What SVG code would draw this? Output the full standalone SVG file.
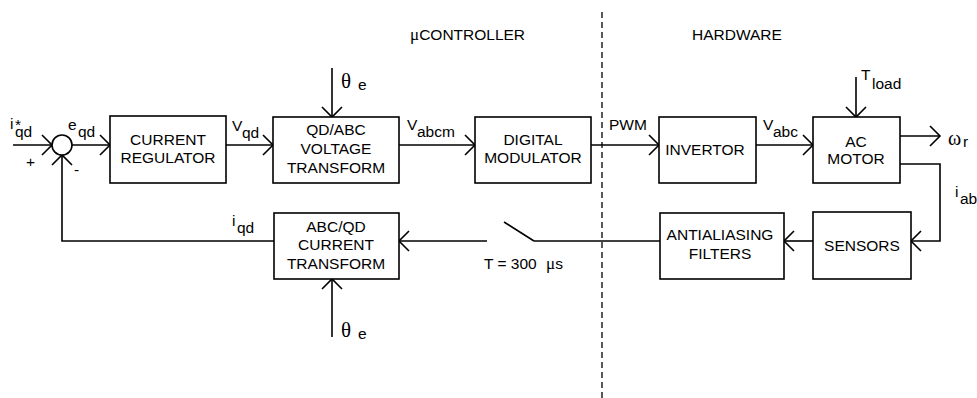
<svg xmlns="http://www.w3.org/2000/svg" width="977" height="398" viewBox="0 0 977 398">
<style>
.t{font-family:"Liberation Sans",Arial,sans-serif;font-size:15.5px;fill:#000}
.m{text-anchor:middle}
.g{font-family:"Liberation Serif","DejaVu Serif",serif;fill:#000}
.box{fill:#fff;stroke:#000;stroke-width:1.6}
.ln{fill:none;stroke:#000;stroke-width:1.6}
.ar{marker-end:url(#arr)}
</style>
<defs>
<marker id="arr" markerUnits="userSpaceOnUse" markerWidth="24" markerHeight="24" viewBox="-12 -12 24 24" refX="0" refY="0" orient="auto" overflow="visible">
<path d="M-10,-10 L0,0 L-10,10" fill="none" stroke="#000" stroke-width="1.6"/>
</marker>
</defs>
<rect width="977" height="398" fill="#fff"/>

<g id="divider">
<line x1="602" y1="12" x2="602" y2="398" stroke="#000" stroke-width="1.3" stroke-dasharray="6,4"/>
<text class="t" x="410" y="40"><tspan class="g" font-size="17">μ</tspan>CONTROLLER</text>
<text class="t" x="692" y="40">HARDWARE</text>
</g>

<g id="connectors">
<line class="ln ar" x1="13" y1="145" x2="52" y2="145"/>
<line class="ln ar" x1="72" y1="145" x2="110" y2="145"/>
<line class="ln ar" x1="226" y1="145" x2="273" y2="145"/>
<line class="ln ar" x1="399" y1="145" x2="475" y2="145"/>
<line class="ln ar" x1="591" y1="145" x2="659" y2="145"/>
<line class="ln ar" x1="756" y1="145" x2="813" y2="145"/>
<line class="ln ar" x1="900" y1="136" x2="940" y2="136"/>
<polyline class="ln ar" points="900,164 940,164 940,241 911,241"/>
<line class="ln ar" x1="813" y1="241" x2="784" y2="241"/>
<line class="ln" x1="660" y1="241" x2="534" y2="241"/>
<line class="ln" x1="534" y1="241" x2="504" y2="222"/>
<line class="ln ar" x1="487" y1="241" x2="399" y2="241"/>
<polyline class="ln ar" points="274,241 62,241 62,155"/>
<line class="ln ar" x1="332" y1="68" x2="332" y2="117"/>
<line class="ln ar" x1="332" y1="337" x2="332" y2="279"/>
<line class="ln ar" x1="856" y1="77" x2="856" y2="117"/>
</g>

<g id="sum">
<circle cx="62" cy="145" r="10" fill="#fff" stroke="#000" stroke-width="1.6"/>
<text class="t" x="26" y="167">+</text>
<text class="t" x="74" y="175">-</text>
</g>

<g id="labels">
<text class="t" x="10" y="129">i<tspan x="15" y="130">*</tspan><tspan x="15" y="137">qd</tspan></text>
<text class="t" x="68" y="130">e<tspan x="78" y="137">qd</tspan></text>
<text class="t" x="232" y="131">V<tspan x="242" y="138">qd</tspan></text>
<text class="t" x="407" y="130">V<tspan x="417" y="137">abcm</tspan></text>
<text class="t" x="609" y="130">PWM</text>
<text class="t" x="763" y="130">V<tspan x="773" y="137">abc</tspan></text>
<text class="t" x="861" y="80">T<tspan x="872" y="89">load</tspan></text>
<text class="g" x="948" y="145" font-size="20">ω<tspan class="t" x="963" y="147">r</tspan></text>
<text class="t" x="955" y="197">i<tspan x="960" y="204">ab</tspan></text>
<text class="t" x="232" y="226">i<tspan x="237" y="233">qd</tspan></text>
<text class="g" x="341" y="88" font-size="21">θ<tspan class="t" x="358" y="90">e</tspan></text>
<text class="g" x="341" y="337" font-size="21">θ<tspan class="t" x="358" y="339">e</tspan></text>
<text class="t" x="484" y="269">T = 300<tspan class="g" font-size="17" x="546">μ</tspan>s</text>
</g>

<g id="current-regulator">
<rect class="box" x="110" y="116" width="116" height="67"/>
<text class="t m" x="168" y="145">CURRENT</text>
<text class="t m" x="168" y="163">REGULATOR</text>
</g>

<g id="qdabc-transform">
<rect class="box" x="273" y="117" width="126" height="66"/>
<text class="t m" x="336" y="135">QD/ABC</text>
<text class="t m" x="336" y="154">VOLTAGE</text>
<text class="t m" x="336" y="173">TRANSFORM</text>
</g>

<g id="digital-modulator">
<rect class="box" x="475" y="117" width="116" height="66"/>
<text class="t m" x="533" y="145">DIGITAL</text>
<text class="t m" x="533" y="163">MODULATOR</text>
</g>

<g id="invertor">
<rect class="box" x="659" y="117" width="97" height="66"/>
<text class="t m" x="705" y="155">INVERTOR</text>
</g>

<g id="ac-motor">
<rect class="box" x="813" y="117" width="87" height="66"/>
<text class="t m" x="856" y="147">AC</text>
<text class="t m" x="856" y="164">MOTOR</text>
</g>

<g id="sensors">
<rect class="box" x="813" y="212" width="98" height="67"/>
<text class="t m" x="862" y="251">SENSORS</text>
</g>

<g id="antialiasing-filters">
<rect class="box" x="660" y="213" width="124" height="66"/>
<text class="t m" x="720" y="240">ANTIALIASING</text>
<text class="t m" x="720" y="259">FILTERS</text>
</g>

<g id="abcqd-transform">
<rect class="box" x="274" y="213" width="125" height="66"/>
<text class="t m" x="336" y="232">ABC/QD</text>
<text class="t m" x="336" y="250">CURRENT</text>
<text class="t m" x="336" y="269">TRANSFORM</text>
</g>
</svg>
